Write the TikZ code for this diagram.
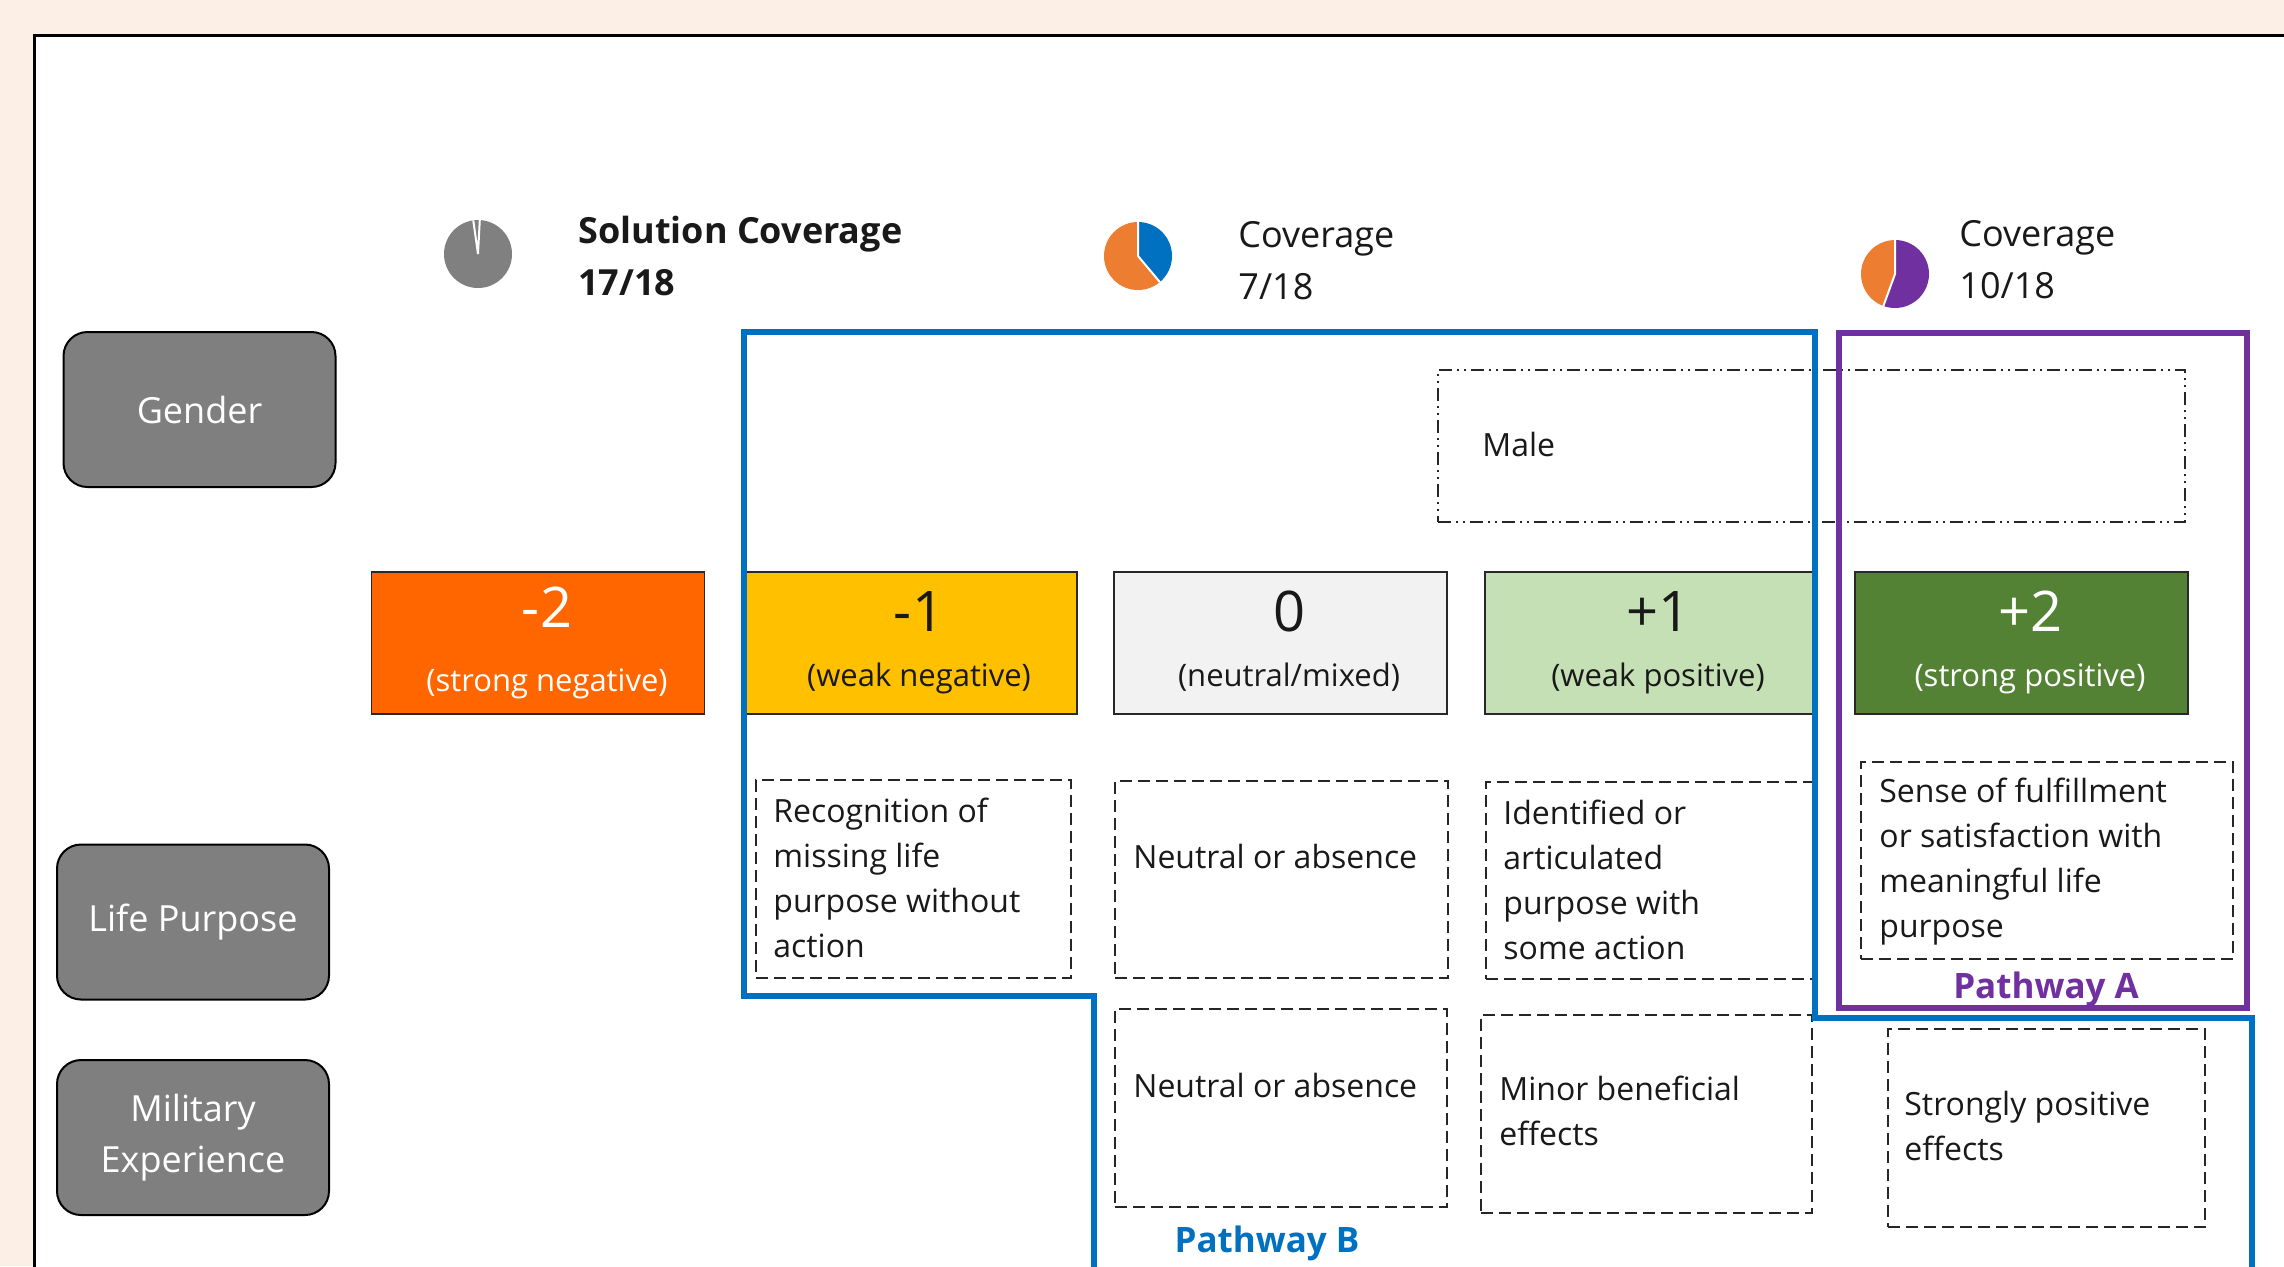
\documentclass[tikz,border=0pt]{standalone}
\usepackage{fontspec}
\setmainfont{Open Sans}
\definecolor{peach}{RGB}{252,239,230}
\definecolor{blueB}{RGB}{0,112,192}
\definecolor{purpleA}{RGB}{112,48,160}
\definecolor{pieorange}{RGB}{237,125,49}
\definecolor{piegray}{RGB}{128,128,128}
\definecolor{negtwo}{RGB}{255,102,0}
\definecolor{negone}{RGB}{255,192,0}
\definecolor{zeroc}{RGB}{242,242,242}
\definecolor{posone}{RGB}{197,224,180}
\definecolor{postwo}{RGB}{84,130,53}
\definecolor{labelgray}{RGB}{127,127,127}
\definecolor{textc}{RGB}{25,25,25}
\definecolor{scoreline}{RGB}{40,40,40}
\begin{document}
\begin{tikzpicture}[x=0.5pt,y=-0.5pt,
  lbl/.style={draw=black, line width=1pt, fill=labelgray, rounded corners=12pt,
    minimum width=136pt, minimum height=77.5pt, text=white,
    font=\fontsize{18}{25.5}\selectfont, align=center, inner sep=0pt},
  score/.style={draw=scoreline, line width=0.8pt, minimum height=71pt,
    minimum width=166.5pt, inner sep=0pt},
  dbox/.style={draw=black!85, line width=0.9pt, dash pattern=on 6pt off 3pt, inner sep=0pt},
  ddbox/.style={draw=black!85, line width=0.9pt,
    dash pattern=on 6.5pt off 2.5pt on 1pt off 2.5pt on 1pt off 2.5pt, inner sep=0pt},
  btxt/.style={anchor=base west, inner sep=0pt, align=left, text=textc,
    font=\fontsize{16}{22.35}\selectfont},
  htxt/.style={anchor=base west, inner sep=0pt, align=left, text=textc,
    font=\fontsize{18}{26}\selectfont},
  snum/.style={anchor=base, inner sep=0pt, font=\fontsize{28}{28}\selectfont},
  ssub/.style={anchor=base, inner sep=0pt, font=\fontsize{15.5}{15.5}\selectfont},
  pway/.style={anchor=base, inner sep=0pt, font=\fontsize{17.5}{17.5}\selectfont\bfseries},
  sep/.style={white, line width=1pt}
]
\useasboundingbox (0,0) rectangle (2284,1266);
\clip (0,0) rectangle (2284,1266);
\fill[peach] (0,0) rectangle (2284,1266);
\fill[white] (34,35) rectangle (2300,1300);
\draw[black, line width=1.5pt] (34,1300) -- (34,35) -- (2300,35);

% pies
\coordinate (p1) at (478,254);
\coordinate (p2) at (1138,256);
\coordinate (p3) at (1895,274);
\fill[piegray] (p1) circle[radius=34];
\draw[sep] (p1) -- ++(-87:34) (p1) -- ++(-98:34);
\fill[blueB] (p2) -- ++(-90:34) arc[start angle=-90, end angle=50, radius=34] -- cycle;
\fill[pieorange] (p2) -- ++(50:34) arc[start angle=50, end angle=270, radius=34] -- cycle;
\draw[sep] (p2) -- ++(-90:34) (p2) -- ++(50:34);
\fill[purpleA] (p3) -- ++(-90:34) arc[start angle=-90, end angle=110, radius=34] -- cycle;
\fill[pieorange] (p3) -- ++(110:34) arc[start angle=110, end angle=270, radius=34] -- cycle;
\draw[sep] (p3) -- ++(-90:34) (p3) -- ++(110:34);

% headers (base anchor = last line baseline)
\node[htxt, font=\fontsize{18}{26}\selectfont\bfseries] (h1) at (578,295) {Solution Coverage\\17/18};
\node[htxt] (h2) at (1238,299) {Coverage\\7/18};
\node[htxt] (h3) at (1959,298) {Coverage\\10/18};

% left labels
\node[lbl] (gender) at (199.5,409.5) {Gender};
\node[lbl] (life) at (193,922) {Life Purpose};
\node[lbl] (mil) at (193,1137.5) {Military\\Experience};

% score boxes
\node[score, fill=negtwo] (sm2) at (538,643) {};
\node[score, fill=negone] (sm1) at (910.5,643) {};
\node[score, fill=zeroc] (s0) at (1280.5,643) {};
\node[score, fill=posone, minimum width=164pt] (sp1) at (1649,643) {};
\node[score, fill=postwo] (sp2) at (2021.5,643) {};
\node[snum, text=white] (nm2) at (547,627) {-2};
\node[ssub, text=white] (tm2) at (547,691) {(strong negative)};
\node[snum, text=textc] (nm1) at (919,631) {-1};
\node[ssub, text=textc] (tm1) at (919,686) {(weak negative)};
\node[snum, text=textc] (n0) at (1289,631) {0};
\node[ssub, text=textc] (t0) at (1289,686) {(neutral/mixed)};
\node[snum, text=textc] (np1) at (1658,631) {+1};
\node[ssub, text=textc] (tp1) at (1658,686) {(weak positive)};
\node[snum, text=white] (np2) at (2030,631) {+2};
\node[ssub, text=white] (tp2) at (2030,686) {(strong positive)};

% dashed boxes
\node[ddbox, minimum width=373.5pt, minimum height=76pt] (male) at (1811.5,446) {};
\node[dbox, minimum width=157.5pt, minimum height=99pt] (recog) at (913.5,879) {};
\node[dbox, minimum width=166.5pt, minimum height=98.5pt] (neut1) at (1281.5,879.5) {};
\node[dbox, minimum width=163.5pt, minimum height=98.5pt] (ident) at (1649.5,880.5) {};
\node[dbox, minimum width=186pt, minimum height=98.5pt] (sense) at (2047,860.5) {};
\node[dbox, minimum width=166pt, minimum height=99pt] (neut2) at (1281,1108) {};
\node[dbox, minimum width=165.5pt, minimum height=99pt] (minor) at (1646.5,1114) {};
\node[dbox, minimum width=158.5pt, minimum height=99pt] (strong) at (2046.5,1128) {};

\node[btxt] (tmale) at (1482,456) {Male};
\node[btxt] (trecog) at (773,957) {Recognition of\\missing life\\purpose without\\action};
\node[btxt] (tneut1) at (1133,868) {Neutral or absence};
\node[btxt] (tident) at (1503,959) {Identified or\\articulated\\purpose with\\some action};
\node[btxt] (tsense) at (1879,937) {Sense of fulfillment\\or satisfaction with\\meaningful life\\purpose};
\node[btxt] (tneut2) at (1133,1097) {Neutral or absence};
\node[btxt] (tminor) at (1499,1145) {Minor beneficial\\effects};
\node[btxt] (tstrong) at (1904,1160) {Strongly positive\\effects};

% pathways
\draw[blueB, line width=3pt] (1094,1290) -- (1094,996) -- (744,996) -- (744,332)
  -- (1815,332) -- (1815,1018) -- (2252,1018) -- (2252,1290);
\draw[purpleA, line width=3pt] (1839,333) rectangle (2247,1008);
\node[pway, text=purpleA] (pa) at (2046,998) {Pathway A};
\node[pway, text=blueB] (pb) at (1267,1252) {Pathway B};
\end{tikzpicture}
\end{document}
